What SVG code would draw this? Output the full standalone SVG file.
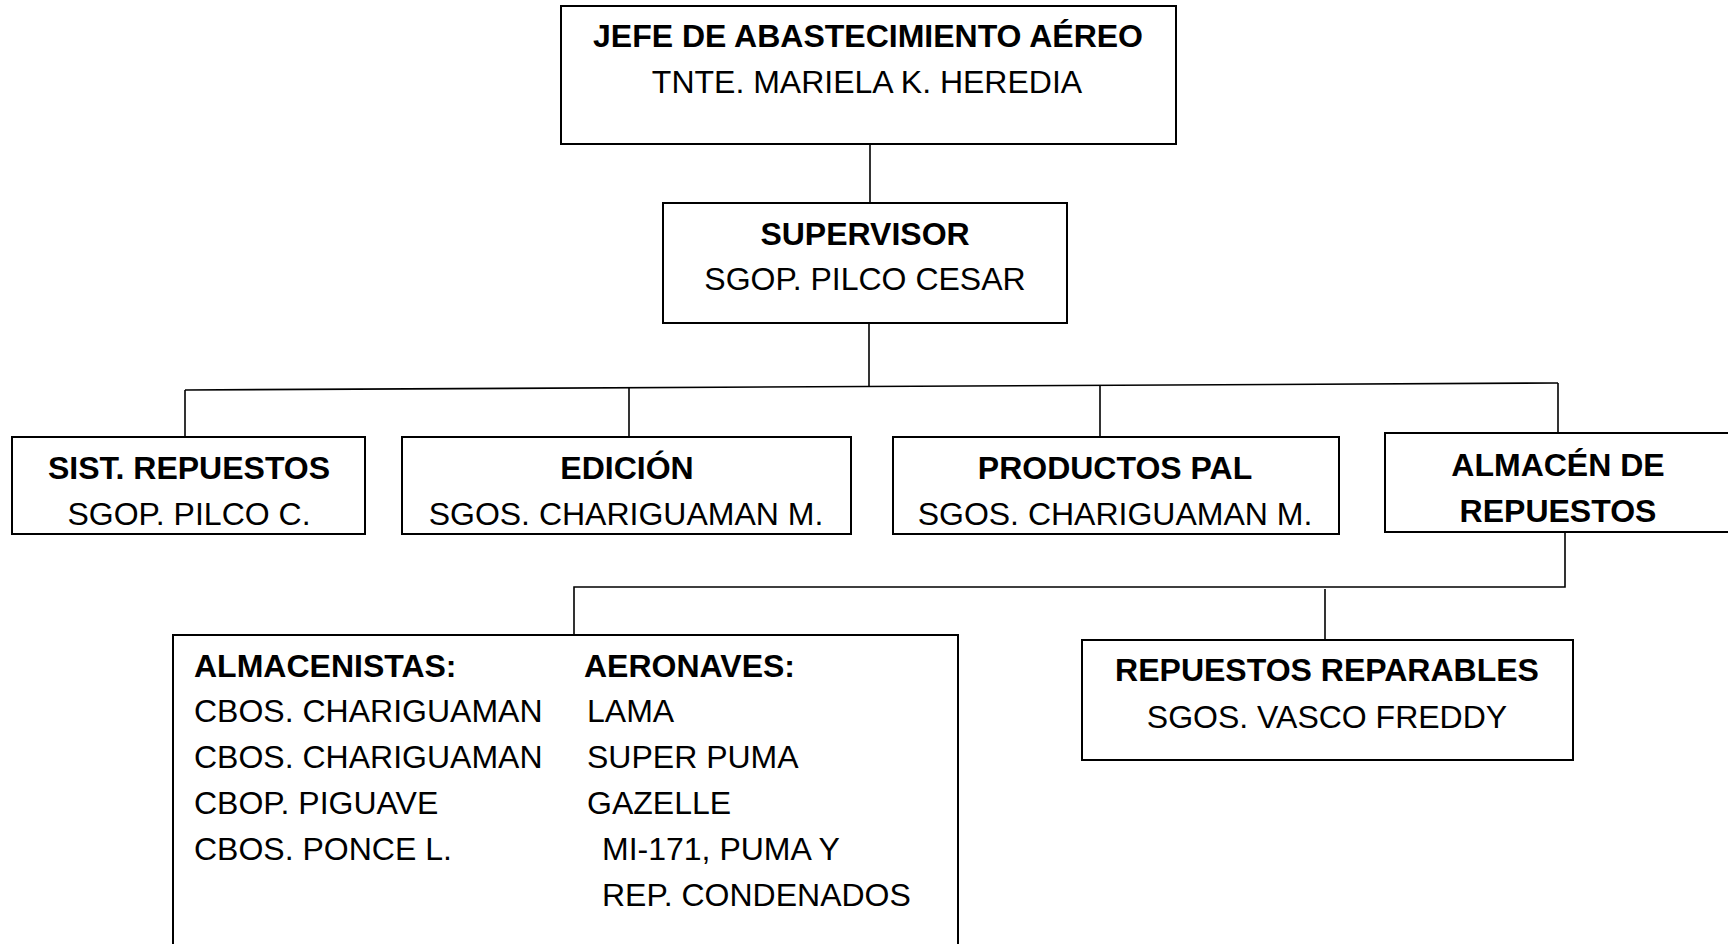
<svg xmlns="http://www.w3.org/2000/svg" width="1728" height="944" viewBox="0 0 1728 944">
<style>
.box{fill:#fff;stroke:#000;stroke-width:2}
.ln{fill:none;stroke:#000;stroke-width:1.6}
text{font-family:"Liberation Sans",Arial,sans-serif;font-size:32px;fill:#000}
.b{font-weight:bold}
.c{text-anchor:middle}
</style>
<rect width="1728" height="944" fill="#fff"/>
<g id="connectors">
<path class="ln" d="M870 143 V203"/>
<path class="ln" d="M869 323 V386"/>
<path class="ln" d="M185 390 L1558 383"/>
<path class="ln" d="M185 390 V437"/>
<path class="ln" d="M629 388 V437"/>
<path class="ln" d="M1100 386 V437"/>
<path class="ln" d="M1558 383 V433"/>
<path class="ln" d="M1565 532 V587 H574 V635"/>
<path class="ln" d="M1325 589 V640"/>
</g>
<g id="jefe">
<rect class="box" x="561" y="6" width="615" height="138"/>
<text class="b c" x="868" y="47">JEFE DE ABASTECIMIENTO AÉREO</text>
<text class="c" x="867" y="93">TNTE. MARIELA K. HEREDIA</text>
</g>
<g id="supervisor">
<rect class="box" x="663" y="203" width="404" height="120"/>
<text class="b c" x="865" y="245">SUPERVISOR</text>
<text class="c" x="865" y="290">SGOP. PILCO CESAR</text>
</g>
<g id="sist">
<rect class="box" x="12" y="437" width="353" height="97"/>
<text class="b c" x="189" y="479">SIST. REPUESTOS</text>
<text class="c" x="189" y="525">SGOP. PILCO C.</text>
</g>
<g id="edicion">
<rect class="box" x="402" y="437" width="449" height="97"/>
<text class="b c" x="627" y="479">EDICIÓN</text>
<text class="c" x="626" y="525">SGOS. CHARIGUAMAN M.</text>
</g>
<g id="productos">
<rect class="box" x="893" y="437" width="446" height="97"/>
<text class="b c" x="1115" y="479">PRODUCTOS PAL</text>
<text class="c" x="1115" y="525">SGOS. CHARIGUAMAN M.</text>
</g>
<g id="almacen">
<rect class="box" x="1385" y="433" width="360" height="99"/>
<text class="b c" x="1558" y="476">ALMACÉN DE</text>
<text class="b c" x="1558" y="522">REPUESTOS</text>
</g>
<g id="almacenistas">
<rect class="box" x="173" y="635" width="785" height="330"/>
<text class="b" x="194" y="677">ALMACENISTAS:</text>
<text x="194" y="722">CBOS. CHARIGUAMAN</text>
<text x="194" y="768">CBOS. CHARIGUAMAN</text>
<text x="194" y="814">CBOP. PIGUAVE</text>
<text x="194" y="860">CBOS. PONCE L.</text>
<text class="b" x="584" y="677">AERONAVES:</text>
<text x="587" y="722">LAMA</text>
<text x="587" y="768">SUPER PUMA</text>
<text x="587" y="814">GAZELLE</text>
<text x="602" y="860">MI-171, PUMA Y</text>
<text x="602" y="906">REP. CONDENADOS</text>
</g>
<g id="reparables">
<rect class="box" x="1082" y="640" width="491" height="120"/>
<text class="b c" x="1327" y="681">REPUESTOS REPARABLES</text>
<text class="c" x="1327" y="728">SGOS. VASCO FREDDY</text>
</g>
</svg>
